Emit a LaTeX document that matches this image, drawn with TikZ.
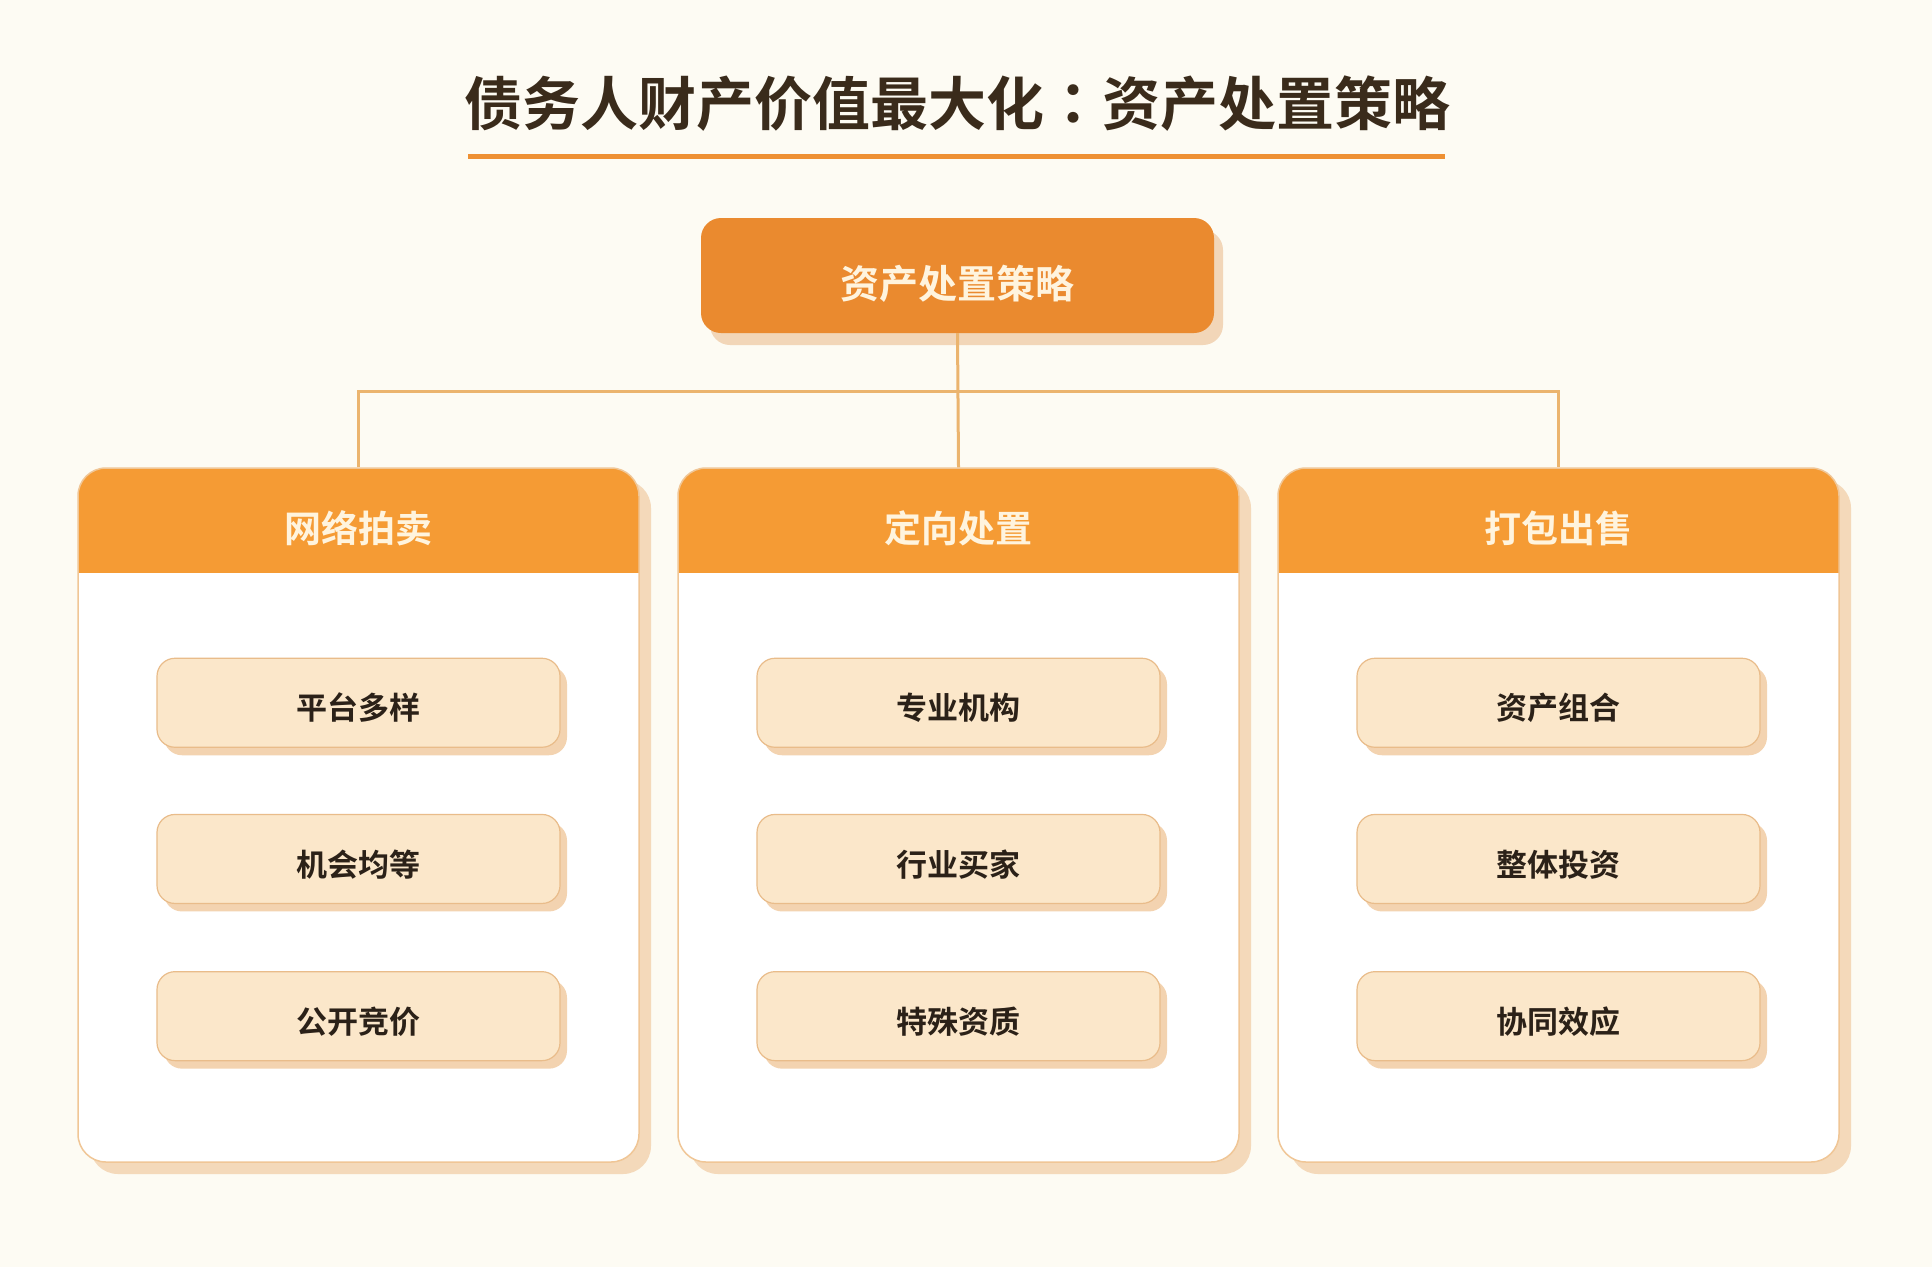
\documentclass[tikz,border=0pt]{standalone}
\usepackage{fontspec}
\setmainfont{Noto Sans CJK SC}[BoldFont={Noto Sans CJK SC Bold}]
\newfontfamily\cjktc{Noto Sans CJK TC}[BoldFont={Noto Sans CJK TC Bold}]
\usepackage{xcolor}
\usepackage{tikz}
\usetikzlibrary{positioning, shadows}

\definecolor{bgcol}{HTML}{FDFBF3}
\definecolor{titlecol}{HTML}{3A2B1B}
\definecolor{accent}{HTML}{EE9033}
\definecolor{rootcol}{HTML}{EA8A2F}
\definecolor{rootshadow}{HTML}{F2D6B8}
\definecolor{headcol}{HTML}{F59B34}
\definecolor{lighttext}{HTML}{FFF4DE}
\definecolor{colborder}{HTML}{F0C696}
\definecolor{colshadow}{HTML}{F4D9BA}
\definecolor{linkcol}{HTML}{EBB46E}
\definecolor{itemcol}{HTML}{FBE7CA}
\definecolor{itemborder}{HTML}{E9BC8A}
\definecolor{itemshadow}{HTML}{F3D3B0}
\definecolor{itemtext}{HTML}{2B2118}

\begin{document}
\begin{tikzpicture}[x=1pt,y=-1pt]
		\tikzset{
			node distance=37.5pt and 37.5pt,
			heading/.style={font=\fontsize{58}{64}\selectfont\bfseries, text=titlecol, inner sep=0pt},
			rootbox/.style={rectangle, fill=rootcol, rounded corners=20pt, minimum width=513pt,
			minimum height=115pt, text=lighttext, font=\fontsize{39}{45}\selectfont\bfseries,
			text height=50pt,
			drop shadow={shadow xshift=9pt, shadow yshift=-12pt, fill=rootshadow, opacity=1}},
			colbox/.style={rectangle, draw=colborder, line width=1.5pt, fill=white, rounded corners=28pt,
			minimum width=561pt, minimum height=694pt,
			drop shadow={shadow xshift=12pt, shadow yshift=-12pt, fill=colshadow, opacity=1},
			path picture={\fill[headcol, sharp corners] (path picture bounding box.north west) rectangle
			([yshift=-105pt]path picture bounding box.north east);}},
			headlabel/.style={text=lighttext, font=\fontsize{37}{43}\selectfont\bfseries},
			itembox/.style={rectangle, draw=itemborder, line width=1.2pt, fill=itemcol, rounded corners=18pt,
			minimum width=403pt, minimum height=89pt, text=itemtext, font=\fontsize{31}{37}\selectfont\bfseries,
			text height=37pt,
			drop shadow={shadow xshift=7pt, shadow yshift=-8pt, fill=itemshadow, opacity=1}},
			link/.style={draw=linkcol, line width=3pt}
		}
		\fill[bgcol] (0,0) rectangle (1932,1267);

		\node[heading](title) at (957,104){债务人财产价值最大化{\cjktc ：}资产处置策略};
		\draw[accent, line width=5pt] (468,156) -- (1445,156);

		\node[rootbox](root) at (957.5,275.5){资产处置策略};

		\node[colbox](auction) at (358.5,815){};
		\node[colbox, right=of auction](directed){};
		\node[colbox, right=of directed](bundle){};

		\draw[link](root.south) -- (directed.north);
		\draw[link](auction.north) -- ++(0,-76) -| (bundle.north);

		\node[headlabel](auctionhead) at ([yshift=-61pt]auction.north){网络拍卖};
		\node[headlabel](directedhead) at ([yshift=-61pt]directed.north){定向处置};
		\node[headlabel](bundlehead) at ([yshift=-61pt]bundle.north){打包出售};

		\node[itembox](platform) at ([yshift=-235.5pt]auction.north){平台多样};
		\node[itembox, below=66pt of platform](equal){机会均等};
		\node[itembox, below=67pt of equal](bidding){公开竞价};

		\node[itembox](agency) at ([yshift=-235.5pt]directed.north){专业机构};
		\node[itembox, below=66pt of agency](buyer){行业买家};
		\node[itembox, below=67pt of buyer](qualify){特殊资质};

		\node[itembox](portfolio) at ([yshift=-235.5pt]bundle.north){资产组合};
		\node[itembox, below=66pt of portfolio](invest){整体投资};
		\node[itembox, below=67pt of invest](synergy){协同效应};
	\end{tikzpicture}
\end{document}
